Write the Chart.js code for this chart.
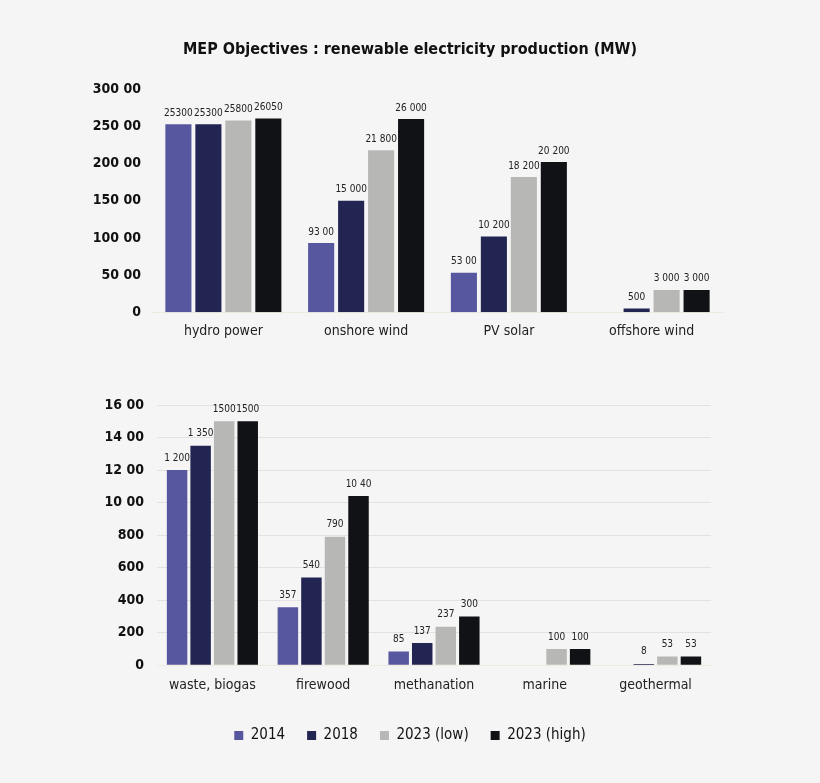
<!DOCTYPE html>
<html>
<head>
<meta charset="utf-8">
<script src="https://cdn.jsdelivr.net/npm/chart.js@4.4.1/dist/chart.umd.min.js"></script>
<style>
  html, body { margin:0; padding:0; background:#f5f5f5; }
  #wrap { position:relative; width:820px; height:783px; background:#f5f5f5; }
  #c1 { position:absolute; left:0; top:0; }
  #c2 { position:absolute; left:0; top:360px; }
</style>
</head>
<body>
<div id="wrap">
  <canvas id="c1" width="820" height="361"></canvas>
  <canvas id="c2" width="820" height="423"></canvas>
</div>
<script>
const FONT = "'Liberation Sans Narrow', 'DejaVu Sans Condensed', 'Roboto Condensed', sans-serif";
const seriesNames = ['2014', '2018', '2023 (low)', '2023 (high)'];
const seriesColors = ['#5757a0', '#222552', '#b7b8b5', '#111216'];

// Top chart
const topCategories = ['hydro power', 'onshore wind', 'PV solar', 'offshore wind'];
const top2014 = [25300, 9300, 5300, null];
const top2018 = [25300, 15000, 10200, 500];
const top2023low = [25800, 21800, 18200, 3000];
const top2023high = [26050, 26000, 20200, 3000];
const topLabels2014 = ['25300', '93 00', '53 00', ''];
const topLabels2018 = ['25300', '15 000', '10 200', '500'];
const topLabels2023low = ['25800', '21 800', '18 200', '3 000'];
const topLabels2023high = ['26050', '26 000', '20 200', '3 000'];
const topTicks = ['0', '50 00', '100 00', '150 00', '200 00', '250 00', '300 00'];

// Bottom chart
const botCategories = ['waste, biogas', 'firewood', 'methanation', 'marine', 'geothermal'];
const bot2014 = [1200, 357, 85, null, null];
const bot2018 = [1350, 540, 137, null, 8];
const bot2023low = [1500, 790, 237, 100, 53];
const bot2023high = [1500, 1040, 300, 100, 53];
const botLabels2014 = ['1 200', '357', '85', '', ''];
const botLabels2018 = ['1 350', '540', '137', '', '8'];
const botLabels2023low = ['1500', '790', '237', '100', '53'];
const botLabels2023high = ['1500', '10 40', '300', '100', '53'];
const botTicks = ['0', '200', '400', '600', '800', '10 00', '12 00', '14 00', '16 00'];

const valueLabelPlugin = {
  id: 'valueLabels',
  afterDatasetsDraw(chart, args, opts) {
    const ctx = chart.ctx;
    ctx.save();
    ctx.font = opts.size + 'px ' + FONT;
    ctx.fillStyle = '#222';
    ctx.textAlign = 'center';
    ctx.textBaseline = 'bottom';
    chart.data.datasets.forEach((ds, i) => {
      const meta = chart.getDatasetMeta(i);
      meta.data.forEach((bar, j) => {
        const txt = ds.valueLabels[j];
        if (!txt || ds.data[j] == null) return;
        ctx.fillText(txt, bar.x, bar.y - opts.offset);
      });
    });
    ctx.restore();
  }
};

function makeDatasets(values, labels, bp, cp) {
  return values.map((v, i) => ({
    label: seriesNames[i],
    data: v,
    valueLabels: labels[i],
    backgroundColor: seriesColors[i],
    borderWidth: 0,
    barPercentage: bp,
    categoryPercentage: cp
  }));
}

function rightSpacer(w) {
  return {
    position: 'right',
    display: true,
    afterFit(scale) { scale.width = w; },
    grid: { display: false, drawTicks: false },
    border: { display: false },
    ticks: { display: false }
  };
}

new Chart(document.getElementById('c1'), {
  type: 'bar',
  data: {
    labels: topCategories,
    datasets: makeDatasets([top2014, top2018, top2023low, top2023high],
      [topLabels2014, topLabels2018, topLabels2023low, topLabels2023high], 0.87, 0.84)
  },
  options: {
    responsive: false,
    animation: false,
    layout: { padding: { left: 0, right: 0, top: 0, bottom: 10 } },
    plugins: {
      legend: { display: false },
      tooltip: { enabled: false },
      title: {
        display: true,
        text: 'MEP Objectives : renewable electricity production (MW)',
        color: '#111',
        font: { family: FONT, size: 16, weight: 'bold' },
        padding: { top: 40, bottom: 30 }
      },
      valueLabels: { size: 10, offset: 6 }
    },
    scales: {
      x: {
        grid: { display: false, drawTicks: false },
        border: { display: true, color: '#ecebe0', width: 1 },
        ticks: { color: '#222', font: { family: FONT, size: 14 }, padding: 11, maxRotation: 0, autoSkip: false }
      },
      y: {
        min: 0, max: 30000,
        afterFit(scale) { scale.width = 152; },
        grid: { display: false, drawTicks: false },
        border: { display: false },
        ticks: {
          stepSize: 5000,
          color: '#111',
          padding: 11,
          font: { family: FONT, size: 14, weight: 'bold' },
          callback: (v, i) => topTicks[i]
        }
      },
      yRight: rightSpacer(97)
    }
  },
  plugins: [valueLabelPlugin]
});

new Chart(document.getElementById('c2'), {
  type: 'bar',
  data: {
    labels: botCategories,
    datasets: makeDatasets([bot2014, bot2018, bot2023low, bot2023high],
      [botLabels2014, botLabels2018, botLabels2023low, botLabels2023high], 0.87, 0.85)
  },
  options: {
    responsive: false,
    animation: false,
    layout: { padding: { left: 0, right: 0, top: 45, bottom: 30 } },
    plugins: {
      legend: {
        display: true,
        position: 'bottom',
        labels: {
          color: '#111',
          font: { family: FONT, size: 15 },
          boxWidth: 9, boxHeight: 9,
          padding: 22
        }
      },
      tooltip: { enabled: false },
      title: { display: false },
      valueLabels: { size: 10, offset: 7 }
    },
    scales: {
      x: {
        grid: { display: false, drawTicks: false },
        border: { display: true, color: '#ecebe0', width: 1 },
        ticks: { color: '#222', font: { family: FONT, size: 14 }, padding: 12, maxRotation: 0, autoSkip: false }
      },
      y: {
        min: 0, max: 1600,
        afterFit(scale) { scale.width = 157; },
        grid: { display: true, color: '#e2e2e2', drawTicks: false },
        border: { display: false },
        ticks: {
          stepSize: 200,
          color: '#111',
          padding: 13,
          font: { family: FONT, size: 14, weight: 'bold' },
          callback: (v, i) => botTicks[i]
        }
      },
      yRight: rightSpacer(109)
    }
  },
  plugins: [valueLabelPlugin]
});
</script>
</body>
</html>
